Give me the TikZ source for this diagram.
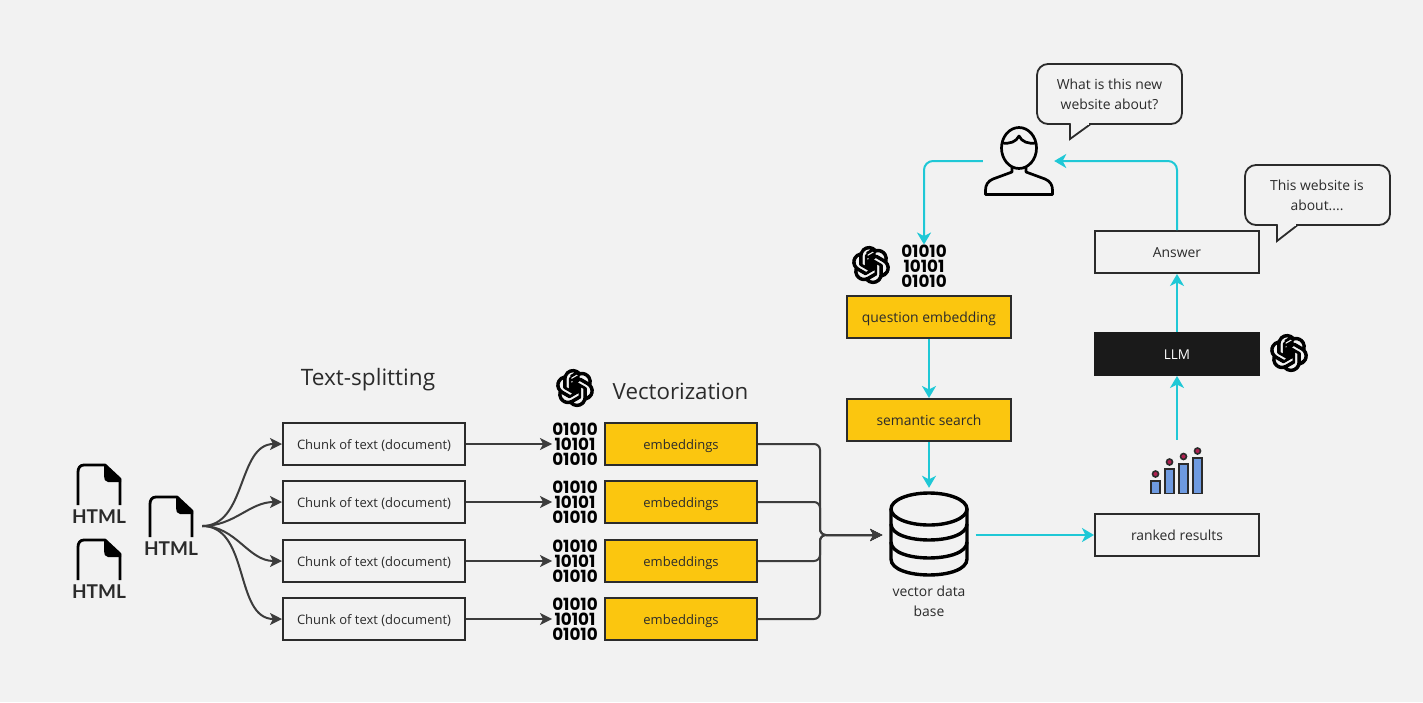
\documentclass[tikz,border=0pt]{standalone}
\usepackage{fontspec}
\setmainfont{Open Sans}
\newfontfamily\binfont{Poppins}
\newfontfamily\htmlfont{Lato}
\usetikzlibrary{arrows.meta,calc,svg.path}
\definecolor{pagebg}{HTML}{F2F2F2}
\definecolor{lineGray}{HTML}{3C3C3C}
\definecolor{tealArrow}{HTML}{1FC8D6}
\definecolor{yellowFill}{HTML}{FBC60F}
\definecolor{inkDark}{HTML}{2B2B2B}
\definecolor{llmBlack}{HTML}{1A1A1A}
\definecolor{barBlue}{HTML}{6E9AE0}
\definecolor{dotRed}{HTML}{B02050}
\tikzset{
  flowbox/.style={draw=inkDark,line width=2pt,inner sep=0pt,minimum height=42pt,text height=10.5pt,text depth=0.2pt,font=\fontsize{13.9}{16}\selectfont,text=inkDark},
  chunkbox/.style={flowbox,minimum width=182pt,font=\fontsize{13}{15}\selectfont},
  embbox/.style={flowbox,fill=yellowFill,minimum width=152pt,font=\fontsize{13}{15}\selectfont},
  wideyellow/.style={flowbox,fill=yellowFill,minimum width=164pt},
  whitebox/.style={flowbox,minimum width=164pt},
  llmbox/.style={flowbox,fill=llmBlack,draw=llmBlack,text=white,minimum width=164pt,font=\fontsize{13.5}{16}\selectfont},
  grayarrow/.style={draw=lineGray,line width=2pt,-{Stealth[length=12pt,width=12pt,inset=3pt]}},
  tealarrow/.style={draw=tealArrow,line width=2pt,-{Stealth[length=12pt,width=14pt,inset=3.5pt]},rounded corners=9pt},
  bintext/.style={inner sep=0pt,align=center,text=black,font=\binfont\bfseries\fontsize{16.8}{15}\selectfont},
  heading/.style={inner sep=0pt,text=inkDark,font=\fontsize{22.6}{26}\selectfont},
  plainlabel/.style={inner sep=0pt,align=center,text=inkDark,font=\fontsize{13.9}{20}\selectfont},
  bubble/.style={draw=inkDark,line width=1.8pt,fill=pagebg,rounded corners=11pt},
  iconslot/.style={inner sep=0pt,minimum width=#1},
  pics/docicon/.style={code={
    \draw[black,line width=2.8pt,line join=round] (-21,20) -- (-21,-13) .. controls (-21,-17) and (-19,-20) .. (-15,-20) -- (6,-20) -- (21,-6) -- (21,20);
    \fill[black] (5,-21) -- (22,-6) -- (22,-3) -- (9,-3) .. controls (6,-3) and (5,-6) .. (5,-9) -- cycle;
    \node[inner sep=0pt,font=\htmlfont\bfseries\fontsize{19}{19}\selectfont,text=inkDark] at (0,32) {HTML};
  }},
  pics/aiknot/.style={code={
    \begin{scope}[shift={(-18.6,-18.6)},scale=1.55,yscale=-1]
    \filldraw[black,line width=1pt,even odd rule] svg {M22.2819 9.8211 a5.9847 5.9847 0 0 0 -.5157 -4.9108 a6.0462 6.0462 0 0 0 -6.5098 -2.9 A6.0651 6.0651 0 0 0 4.9807 4.1818 a5.9847 5.9847 0 0 0 -3.9977 2.9 a6.0462 6.0462 0 0 0 .7427 7.0966 a5.98 5.98 0 0 0 .511 4.9107 a6.051 6.051 0 0 0 6.5146 2.9001 A5.9847 5.9847 0 0 0 13.2599 24 a6.0557 6.0557 0 0 0 5.7718 -4.2058 a5.9894 5.9894 0 0 0 3.9977 -2.9001 a6.0557 6.0557 0 0 0 -.7475 -7.0729 z m-9.022 12.6081 a4.4755 4.4755 0 0 1 -2.8764 -1.0408 l.1419 -.0804 l4.7783 -2.7582 a.7948 .7948 0 0 0 .3927 -.6813 v-6.7369 l2.02 1.1686 l.038 .052 v5.5826 a4.504 4.504 0 0 1 -4.4945 4.4944 z m-9.6607 -4.1254 a4.4708 4.4708 0 0 1 -.5346 -3.0137 l.142 .0852 l4.783 2.7582 a.7712 .7712 0 0 0 .7806 0 l5.8428 -3.3685 v2.3324 l-.0332 .0615 L9.74 19.9502 a4.4992 4.4992 0 0 1 -6.1408 -1.6464 z M2.3408 7.8956 a4.485 4.485 0 0 1 2.3655 -1.9728 V11.6 a.7664 .7664 0 0 0 .3879 .6765 l5.8144 3.3543 l-2.0201 1.1685 l-.071 0 l-4.8303 -2.7865 A4.504 4.504 0 0 1 2.3408 7.872 z m16.5963 3.8558 L13.1038 8.364 L15.1192 7.2 l.071 0 l4.8303 2.7913 a4.4944 4.4944 0 0 1 -.6765 8.1042 v-5.6772 a.79 .79 0 0 0 -.407 -.667 z m2.0107 -3.0231 l-.142 -.0852 l-4.7735 -2.7818 a.7759 .7759 0 0 0 -.7854 0 L9.409 9.2297 V6.8974 l.0284 -.0615 l4.8303 -2.7866 a4.4992 4.4992 0 0 1 6.6802 4.66 z M8.3065 12.863 l-2.02 -1.1638 l-.038 -.0567 V6.0742 a4.4992 4.4992 0 0 1 7.3757 -3.4537 l-.142 .0805 L8.704 5.459 a.7948 .7948 0 0 0 -.3927 .6813 z m1.0976 -2.3654 l2.602 -1.4998 l2.6069 1.4998 v2.9994 l-2.5974 1.4997 l-2.6067 -1.4997 z};
    \end{scope}
  }},
}
\begin{document}
\begin{tikzpicture}[x=1pt,y=-1pt]
\useasboundingbox[fill=pagebg] (0,0) rectangle (1423,702);

% HTML files
\node[iconslot=62pt,minimum height=60pt] (fileA) at (99,495) {};
\node[iconslot=62pt,minimum height=60pt] (fileB) at (99,570) {};
\node[iconslot=62pt,minimum height=60pt] (fileC) at (171,526) {};
\pic at (99,485) {docicon};
\pic at (99,560) {docicon};
\pic at (171,517) {docicon};

% headings
\node[heading] (headSplit) at (368,380) {Text-splitting};
\node[heading,font=\fontsize{22.3}{26}\selectfont] (headVect) at (680.5,391) {Vectorization};

% rows
\foreach \i/\yy in {1/444,2/502,3/561,4/619}{
  \node[chunkbox] (chunk\i) at (374,\yy) {Chunk of text (document)};
  \node[embbox] (emb\i) at (681,\yy) {embeddings};
  \node[bintext] (bin\i) at (575,\yy) {01010\\10101\\01010};
  \draw[grayarrow] (fileC.east) to[out=0,in=180] (chunk\i.west);
  \draw[grayarrow] (chunk\i.east) -- (bin\i.west);
}

% logos
\node[iconslot=36pt,minimum height=36pt] (logoV) at (575,388) {};
\pic at (575,388) {aiknot};
\node[iconslot=36pt,minimum height=36pt] (logoQ) at (871,265) {};
\pic at (871,265) {aiknot};
\node[iconslot=36pt,minimum height=36pt] (logoL) at (1289,353) {};
\pic at (1289,353) {aiknot};

% database
\node[iconslot=93pt,minimum height=94pt] (db) at (929,535) {};
\draw[black,line width=3.4pt] (891,509) -- (891,559) .. controls (891,580.3) and (967,580.3) .. (967,559) -- (967,509);
\draw[black,line width=3.4pt] (929,509) ellipse[x radius=38,y radius=16];
\draw[black,line width=3.4pt] (891,524) .. controls (891,545.3) and (967,545.3) .. (967,524);
\draw[black,line width=3.4pt] (891,542) .. controls (891,563.3) and (967,563.3) .. (967,542);
\node[plainlabel] (dblabel) at (929,601) {vector data\\base};

% merge
\coordinate (merge) at (820,535);
\foreach \i in {1,2,3,4}{
  \draw[grayarrow,rounded corners=6pt] (emb\i.east) -| (merge) -- (db.west);
}

% question column
\node[wideyellow] (question) at (929,317) {question embedding};
\node[wideyellow] (semantic) at (929,420) {semantic search};
\node[bintext] (binQ) at (924,266) {01010\\10101\\01010};

% right column
\node[whitebox] (ranked) at (1177,535) {ranked results};
\node[llmbox] (llm) at (1177,354) {LLM};
\node[whitebox] (answer) at (1177,252) {Answer};

% chart
\node[iconslot=54pt,minimum height=55pt] (chart) at (1177,467.5) {};
\foreach \x/\t in {1151/481,1165/469,1179/464,1193/458}{
  \draw[fill=barBlue,draw=inkDark,line width=1.5pt] (\x,493.5) rectangle (\x+9,\t);
}
\foreach \x/\t in {1155.5/474,1169.5/462,1183.5/456.5,1197.5/451}{
  \fill[dotRed,draw=inkDark,line width=1.6pt] (\x,\t) circle[radius=3];
}

% user
\node[iconslot=71pt,minimum height=68pt] (user) at (1018.5,161) {};
\begin{scope}[black,line width=2.7pt,line join=round]
  \draw (1019,148) ellipse[x radius=17.5,y radius=20.5];
  \draw (1002,143) .. controls (1010,144) and (1016,142) .. (1019,136) .. controls (1022,142) and (1028,144) .. (1036,143);
  \draw (1012,167) -- (1012,172) -- (993,179) .. controls (988,181) and (985.5,185) .. (985.5,190) -- (985.5,194.5) -- (1052.5,194.5) -- (1052.5,190) .. controls (1052.5,185) and (1050,181) .. (1045,179) -- (1026,172) -- (1026,167);
\end{scope}

% bubbles
\draw[bubble] (1037,64) rectangle (1182,124);
\draw[draw=inkDark,line width=1.8pt,fill=pagebg,line join=miter] (1070,123.5) -- (1070,139) -- (1090,124.5);
\fill[pagebg] (1071,122) rectangle (1089,124.5);
\node[plainlabel] (bubbleQ) at (1109.5,94) {What is this new\\website about?};
\draw[bubble] (1245,165) rectangle (1390,225);
\draw[draw=inkDark,line width=1.8pt,fill=pagebg,line join=miter] (1277,224.5) -- (1277,241) -- (1297,225.5);
\fill[pagebg] (1278,223) rectangle (1296,225.5);
\node[plainlabel] (bubbleA) at (1317,195.5) {This website is\\about....};

% teal connectors
\draw[tealarrow] (user.west) -| (binQ.north);
\draw[tealarrow] (question.south) -- (semantic.north);
\draw[tealarrow] (semantic.south) -- (db.north);
\draw[tealarrow] (db.east) -- (ranked.west);
\draw[tealarrow] (chart.north) -- (llm.south);
\draw[tealarrow] (llm.north) -- (answer.south);
\draw[tealarrow] (answer.north) |- (user.east);
\end{tikzpicture}
\end{document}
